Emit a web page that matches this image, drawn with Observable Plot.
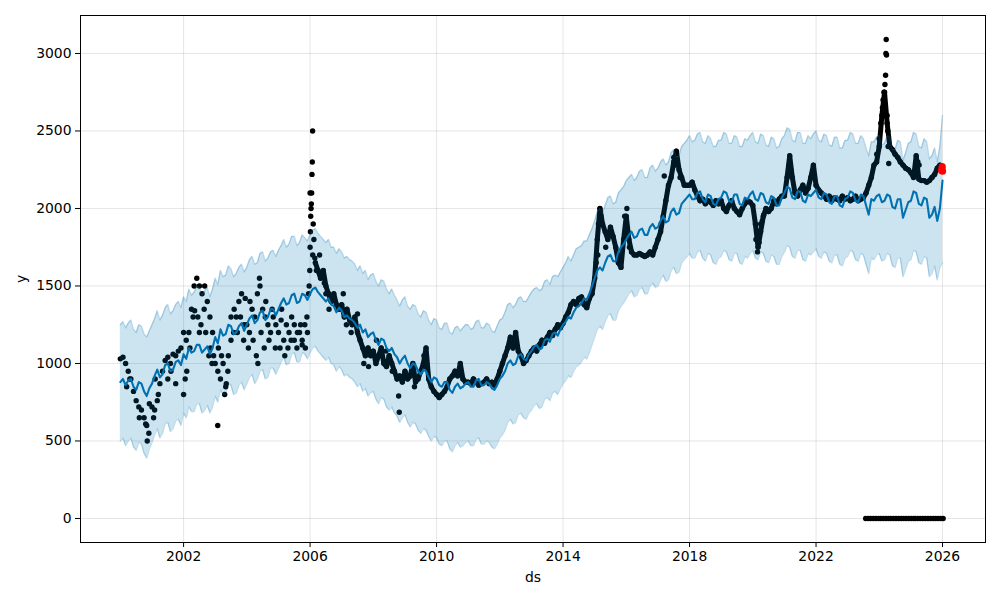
<!DOCTYPE html>
<html><head><meta charset="utf-8">
<script src="https://cdn.jsdelivr.net/npm/d3@7"></script>
<script src="https://cdn.jsdelivr.net/npm/@observablehq/plot@0.6"></script>
<style>
body{margin:0;background:#fff;}
#chart svg{font-family:"DejaVu Sans",sans-serif;}
</style>
</head><body><div id="chart"></div>
<script>
// ---- Observed data: monthly values, one row per year (2000 .. 2025)
const observedStartYear = 2000;
const observedMonthly = [
  1030,1040,1000,950,900,820,760,720,700,650,600,740,
  720,700,760,870,950,1020,1040,1000,1060,1050,1080,1100,
  1200,1150,1200,1350,1500,1550,1500,1450,1500,1400,1300,1200,
  1000,950,900,1000,850,1050,1150,1200,1300,1400,1450,1250,
  1250,1200,1350,1300,1450,1500,1350,1300,1250,1200,1300,1250,
  1200,1280,1150,1250,1200,1300,1150,1100,1200,1150,1250,1200,
  2100,1700,1650,1600,1550,1600,1500,1450,1400,1450,1380,1350,
  1380,1300,1350,1280,1250,1300,1200,1150,1100,1050,1100,1050,
  1080,1000,1050,1100,1000,980,1050,1000,950,900,920,880,
  950,900,920,1000,880,900,950,1000,1100,900,850,820,
  800,780,800,820,850,900,920,950,920,1000,900,880,
  880,870,900,880,860,870,880,900,870,880,860,900,
  950,1000,1050,1100,1170,1100,1200,1080,1050,1000,1020,1050,
  1080,1100,1080,1120,1150,1130,1170,1200,1180,1220,1250,1230,
  1260,1300,1330,1380,1400,1380,1420,1430,1380,1360,1420,1450,
  1550,1800,2000,1900,1850,1800,1880,1820,1750,1650,1620,1800,
  1950,1800,1720,1700,1700,1710,1700,1690,1700,1720,1700,1750,
  1800,1850,1950,2050,2150,2200,2300,2370,2250,2200,2150,2150,
  2150,2170,2120,2080,2050,2060,2030,2050,2040,2020,2050,2030,
  2050,2000,1980,2020,2050,2000,1980,1960,2000,2030,2050,2040,
  2020,1900,1750,1850,1950,2000,1980,2000,2050,2030,2060,2080,
  2080,2200,2340,2200,2100,2080,2120,2150,2100,2130,2200,2280,
  2150,2120,2100,2080,2060,2080,2050,2070,2060,2050,2080,2060,
  2070,2050,2060,2080,2050,2060,2070,2100,2150,2200,2280,2300,
  2400,2600,2750,2550,2400,2380,2350,2330,2300,2280,2260,2250,
  2230,2200,2340,2190,2180,2180,2170,2180,2200,2220,2260,2280
];
// extra observed points (decimal year, value) for spread, spikes and outliers
const observedExtraYears = [
  2000.85,2000.9,2000.8,2000.6,2000.3,2000.2,
  2001.05,2001.1,2001.2,2001.5,2001.6,2001.75,
  2002.0,2002.05,2002.1,2002.2,2002.3,2002.35,2002.45,2002.5,2002.55,2002.65,2002.7,2002.8,2002.85,2002.9,2002.95,
  2003.08,2003.1,2003.2,2003.3,2003.35,2003.4,2003.5,2003.6,2003.7,2003.8,2003.9,2003.95,
  2004.05,2004.1,2004.2,2004.3,2004.35,2004.4,2004.45,2004.55,2004.6,2004.7,2004.8,2004.9,
  2005.05,2005.1,2005.2,2005.3,2005.4,2005.5,2005.6,2005.7,2005.75,2005.85,2005.9,
  2005.95,2005.97,2005.99,2006.0,2006.01,2006.02,2006.03,2006.04,2006.05,2006.06,2006.07,2006.08,2006.1,2006.12,2006.15,2006.2,2006.3,2006.45,2006.5,2006.6,
  2007.05,2007.15,2007.3,2007.5,2007.7,2007.85,
  2008.1,2008.4,2008.6,2008.8,2008.82,
  2009.3,2009.6,2009.65,
  2015.05,2015.1,2015.12,2015.2,2015.35,2015.8,2015.95,
  2016.02,2016.05,2016.1,
  2017.1,2017.2,2017.5,2017.55,2017.7,
  2020.1,2020.15,2020.2,2020.25,2020.3,2020.35,
  2021.15,2021.2,2021.9,
  2023.92,2024.0,2024.05,2024.1,2024.12,2024.15,2024.18,2024.2,2024.21,2024.22,2024.23,2024.25,2024.27,2024.28,2024.3,
  2025.22,2025.26
];
const observedExtraValues = [
  500,550,610,650,900,850,
  650,900,800,900,950,870,
  800,900,950,1100,1300,1340,1300,1200,1250,1350,1200,1050,1100,1000,1050,
  600,1100,1050,800,870,950,1300,1350,1200,1300,1150,1420,
  1100,1400,1150,1050,1000,1550,1200,1100,1400,1150,1350,1100,
  1100,1350,1050,1100,1150,1250,1200,1250,1120,1100,1300,
  1450,1500,1600,1750,1850,1950,2000,2030,2100,2220,2300,2500,1900,1800,1680,1600,1700,1520,1450,1350,
  1450,1250,1200,1320,1000,980,
  1150,1080,950,790,685,
  850,1050,980,
  1650,1700,1900,1950,1750,1700,1950,
  2000,1850,1750,
  1900,2210,2330,2280,2200,
  1800,1720,1780,1900,1920,1960,
  2280,2250,2220,
  2350,2450,2550,2650,2700,2750,2800,2860,3000,3090,2990,2600,2500,2400,2290,
  2300,2280
];
// zero-valued observations
const zeroYears = [
  2023.57,2023.65,2023.73,2023.81,2023.89,2023.97,2024.05,2024.13,
  2024.21,2024.29,2024.37,2024.45,2024.53,2024.61,2024.69,2024.77,2024.85,2024.93,2025.01,2025.09,2025.14,
  2025.22,2025.30,2025.38,2025.46,2025.54,2025.62,2025.70,2025.78,2025.86,2025.94,2026.02
];
// latest points highlighted in red
const redYears = [2025.97, 2025.98, 2025.99, 2026.0];
const redValues = [2245, 2255, 2270, 2240];

// ---- Forecast: monthly from 2000-01 to 2026-01, one row per year
const forecastStartYear = 2000;
const yhat = [
  880,900,860,890,900,850,830,880,870,820,790,840,
  870,920,960,910,930,990,1000,950,960,1010,1020,990,
  1060,1030,1100,1070,1080,1120,1120,1070,1090,1110,1060,1100,
  1170,1130,1220,1180,1190,1250,1240,1190,1200,1240,1260,1210,
  1250,1290,1310,1260,1280,1330,1340,1280,1300,1350,1350,1310,
  1350,1390,1420,1380,1390,1440,1450,1390,1400,1450,1440,1410,
  1450,1480,1490,1460,1440,1420,1400,1420,1380,1370,1330,1360,
  1340,1300,1310,1290,1280,1260,1230,1250,1200,1220,1170,1190,
  1200,1150,1120,1160,1150,1100,1080,1100,1060,1040,1000,1030,
  1050,1000,970,1000,990,950,930,960,950,910,880,910,
  900,860,850,880,880,830,810,850,870,840,850,870,
  880,850,850,890,900,860,860,880,870,840,830,860,
  900,920,950,1000,1020,990,1000,1050,1060,1030,1020,1060,
  1080,1110,1120,1090,1100,1150,1160,1140,1190,1200,1180,1220,
  1250,1270,1300,1290,1330,1360,1370,1390,1420,1410,1450,1500,
  1550,1600,1620,1600,1650,1690,1700,1660,1660,1720,1750,1770,
  1800,1830,1850,1810,1820,1860,1870,1830,1830,1880,1900,1870,
  1880,1920,1950,1910,1920,1980,2000,1960,1970,2030,2050,2070,
  2090,2060,2060,2100,2110,2060,2040,2090,2080,2030,2020,2060,
  2070,2110,2100,2050,2040,2090,2090,2030,2020,2070,2060,2090,
  2110,2060,2050,2100,2090,2040,2030,2080,2070,2020,2020,2070,
  2100,2140,2130,2070,2060,2110,2110,2050,2040,2090,2080,2100,
  2120,2070,2060,2100,2090,2040,2030,2080,2080,2020,2010,2060,
  2070,2110,2100,2050,2040,2090,2080,2020,1960,2060,2050,2080,
  2090,2040,2050,2090,2080,2010,2000,2060,2060,1940,1990,2040,
  2050,2110,2100,2030,2020,2070,2060,1940,1960,2010,1920,2000,
  2180
];
const yhatUpper = [
  1250,1270,1230,1260,1280,1220,1200,1250,1240,1190,1170,1210,
  1250,1290,1340,1280,1310,1360,1380,1320,1340,1380,1400,1360,
  1430,1400,1480,1440,1460,1500,1490,1440,1470,1490,1430,1480,
  1550,1510,1600,1560,1570,1630,1610,1560,1580,1620,1640,1590,
  1620,1670,1690,1640,1650,1710,1720,1660,1680,1720,1730,1690,
  1730,1760,1800,1750,1770,1820,1820,1760,1780,1830,1810,1790,
  1830,1860,1870,1840,1820,1800,1780,1800,1750,1750,1710,1740,
  1720,1680,1690,1670,1660,1640,1600,1630,1580,1600,1540,1570,
  1580,1530,1500,1540,1530,1480,1450,1480,1440,1410,1370,1410,
  1430,1370,1350,1380,1370,1320,1300,1340,1330,1280,1250,1290,
  1280,1230,1220,1260,1260,1200,1190,1230,1240,1210,1230,1250,
  1250,1220,1230,1270,1280,1230,1230,1260,1250,1210,1200,1240,
  1280,1290,1330,1380,1390,1360,1380,1420,1430,1400,1400,1430,
  1460,1480,1490,1470,1480,1530,1540,1510,1560,1570,1560,1590,
  1620,1650,1690,1660,1700,1740,1750,1760,1790,1790,1830,1870,
  1920,1980,2000,1970,2020,2070,2080,2030,2040,2100,2120,2140,
  2180,2200,2220,2180,2200,2240,2250,2200,2200,2260,2280,2240,
  2260,2300,2320,2280,2300,2360,2380,2330,2340,2400,2420,2440,
  2470,2430,2440,2480,2490,2430,2420,2470,2450,2400,2400,2440,
  2440,2490,2480,2420,2420,2470,2460,2400,2400,2450,2440,2470,
  2490,2430,2420,2480,2470,2410,2400,2460,2450,2390,2400,2450,
  2470,2520,2510,2440,2430,2490,2490,2420,2420,2470,2450,2480,
  2500,2440,2430,2480,2470,2410,2400,2460,2460,2390,2390,2440,
  2440,2490,2480,2420,2420,2470,2450,2390,2340,2430,2430,2460,
  2470,2410,2420,2470,2460,2380,2380,2440,2430,2310,2360,2420,
  2430,2490,2480,2400,2390,2450,2430,2320,2340,2390,2300,2400,
  2600
];
const yhatLower = [
  500,520,470,500,520,460,440,490,480,420,390,450,
  490,540,580,520,550,610,620,560,580,630,640,600,
  680,650,720,690,690,740,740,680,700,730,680,720,
  790,750,830,800,800,870,860,800,810,860,880,830,
  870,910,930,870,900,950,960,900,910,970,970,930,
  970,1010,1040,990,1000,1060,1070,1010,1010,1070,1060,1030,
  1070,1100,1110,1080,1060,1040,1020,1040,1000,990,950,980,
  960,920,930,910,900,880,850,870,820,840,790,810,
  820,770,740,780,770,720,700,720,680,660,620,650,
  670,620,590,620,610,570,550,580,570,530,500,530,
  520,480,470,500,500,450,430,470,490,460,470,490,
  500,470,470,510,520,480,480,500,490,460,450,480,
  520,540,570,620,640,610,620,670,680,650,640,680,
  700,730,740,710,720,770,780,760,810,820,800,840,
  870,890,920,910,950,980,990,1010,1040,1030,1070,1120,
  1170,1220,1240,1220,1270,1310,1320,1280,1280,1340,1370,1390,
  1420,1450,1470,1430,1440,1480,1490,1450,1450,1500,1520,1490,
  1500,1540,1570,1530,1540,1600,1620,1580,1590,1650,1670,1690,
  1710,1680,1680,1720,1730,1680,1660,1710,1700,1650,1640,1680,
  1690,1730,1720,1670,1660,1710,1710,1650,1640,1690,1680,1710,
  1730,1680,1670,1720,1710,1660,1650,1700,1690,1640,1640,1690,
  1720,1760,1750,1690,1680,1730,1730,1670,1660,1710,1700,1720,
  1740,1690,1680,1720,1710,1660,1650,1700,1700,1640,1630,1680,
  1690,1730,1720,1670,1660,1710,1700,1640,1580,1680,1670,1700,
  1710,1660,1670,1710,1700,1630,1620,1680,1680,1560,1610,1660,
  1670,1730,1720,1650,1640,1690,1680,1560,1580,1630,1540,1620,
  1650
];

// ---- Axis ticks
const xTickYears = [2002, 2006, 2010, 2014, 2018, 2022, 2026];
const yTicks = [0, 500, 1000, 1500, 2000, 2500, 3000];

// ---- build tables
const toDate = t => {
  const y = Math.floor(t);
  const a = Date.UTC(y, 0, 1), b = Date.UTC(y + 1, 0, 1);
  return new Date(a + (t - y) * (b - a));
};
const monthly = observedMonthly.map((v, i) => ({ds: toDate(observedStartYear + i / 12), y: v}));
const observed = monthly.filter(d => d.y != null);
observedExtraYears.forEach((t, i) => observed.push({ds: toDate(t), y: observedExtraValues[i]}));
zeroYears.forEach(t => observed.push({ds: toDate(t), y: 0}));
// dense daily record after the 2006 spike shows as a continuous ribbon of dots
const denseTrail = monthly.filter(d => d.ds >= toDate(2006.1));
const red = redYears.map((t, i) => ({ds: toDate(t), y: redValues[i]}));
const forecast = yhat.map((v, i) => ({
  ds: toDate(forecastStartYear + i / 12), yhat: v, lower: yhatLower[i], upper: yhatUpper[i]
}));
const xTicks = xTickYears.map(y => new Date(Date.UTC(y, 0, 1)));

const blue = "#0072B2";
const chart = Plot.plot({
  width: 1000,
  height: 600,
  marginLeft: 80,
  marginRight: 15,
  marginTop: 15,
  marginBottom: 58,
  style: {fontFamily: "DejaVu Sans", fontSize: "13.9px", background: "white", color: "black"},
  x: {type: "utc", domain: [toDate(1998.74), toDate(2027.36)]},
  y: {domain: [-155, 3245]},
  marks: [
    Plot.ruleX(xTicks, {x: d => d, stroke: "gray", strokeOpacity: 0.2, strokeWidth: 1}),
    Plot.ruleY(yTicks, {y: d => d, stroke: "gray", strokeOpacity: 0.2, strokeWidth: 1}),
    Plot.line(denseTrail, {x: "ds", y: "y", stroke: "black", strokeWidth: 5, strokeLinejoin: "round", strokeLinecap: "round"}),
    Plot.dot(observed, {x: "ds", y: "y", r: 2.7, fill: "black", stroke: null}),
    Plot.line(forecast, {x: "ds", y: "yhat", stroke: blue, strokeWidth: 2.1}),
    Plot.areaY(forecast, {x: "ds", y1: "lower", y2: "upper", fill: blue, fillOpacity: 0.2}),
    Plot.line(forecast, {x: "ds", y: "upper", stroke: blue, strokeOpacity: 0.25, strokeWidth: 1.3}),
    Plot.line(forecast, {x: "ds", y: "lower", stroke: blue, strokeOpacity: 0.25, strokeWidth: 1.3}),
    Plot.dot(red, {x: "ds", y: "y", r: 3.6, fill: "red", stroke: null}),
    Plot.frame({stroke: "black", strokeWidth: 1}),
    Plot.axisX({ticks: xTicks, tickFormat: d3.utcFormat("%Y"), tickSize: 5, tickPadding: 4,
      label: "ds", labelAnchor: "center", labelArrow: "none", labelOffset: 39}),
    Plot.axisY({ticks: yTicks, tickFormat: d => String(d), tickSize: 5, tickPadding: 4,
      label: "y", labelAnchor: "center", labelArrow: "none", labelOffset: 64})
  ]
});
document.getElementById("chart").appendChild(chart);
</script>
</body></html>
